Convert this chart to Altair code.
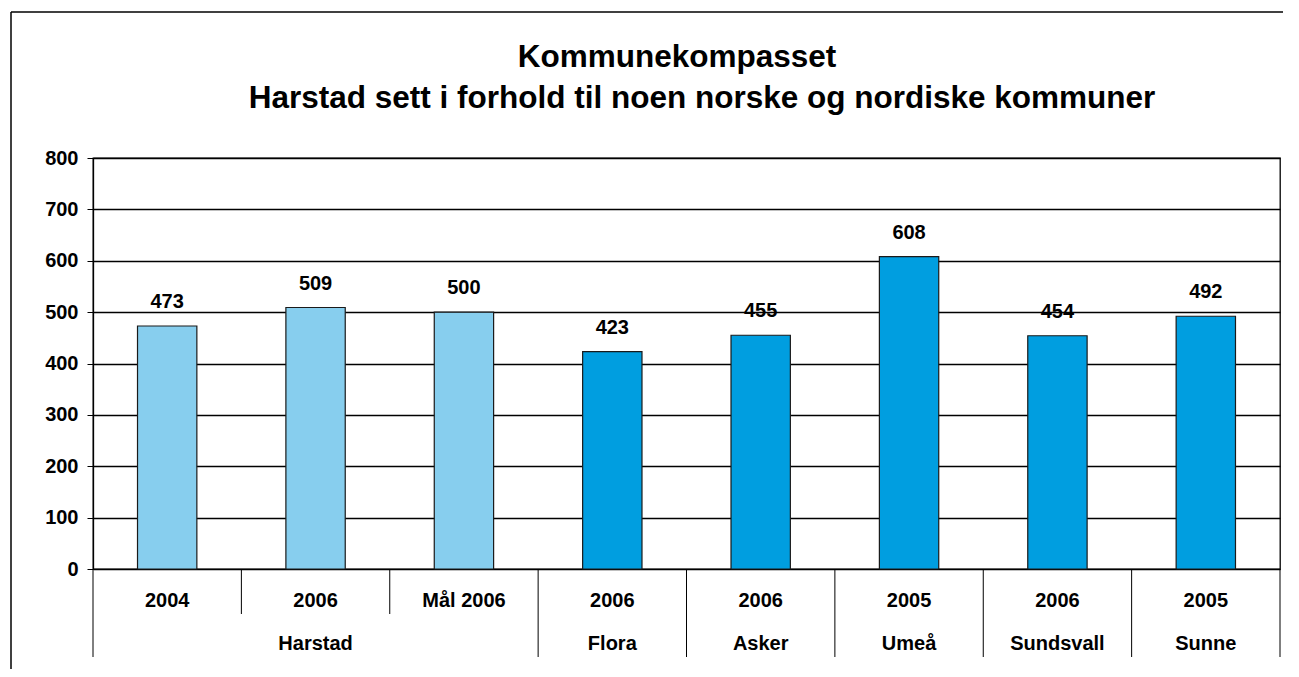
import altair as alt
import pandas as pd

# ---- data ----
cities = ["Harstad", "Harstad", "Harstad", "Flora", "Asker", "Umeå", "Sundsvall", "Sunne"]
years = ["2004", "2006", "Mål 2006", "2006", "2006", "2005", "2006", "2005"]
values = [473, 509, 500, 423, 455, 608, 454, 492]
groups = ["Harstad", "Harstad", "Harstad", "Andre", "Andre", "Andre", "Andre", "Andre"]
title_line1 = "Kommunekompasset"
title_line2 = "Harstad sett i forhold til noen norske og nordiske kommuner"
y_ticks = [0, 100, 200, 300, 400, 500, 600, 700, 800]

W, H = 1187, 411
FONT = "Liberation Sans"

df = pd.DataFrame({"idx": list(range(len(values))), "city": cities, "year": years,
                   "value": values, "group": groups})
df["xc"] = df["idx"] + 0.5
df["x0"] = df["idx"] + 0.3
df["x1"] = df["idx"] + 0.7

city_df = df.groupby("city", sort=False)["xc"].mean().reset_index()

full_b, short_b = [], []
for b in range(len(values) + 1):
    if b == 0 or b == len(values) or cities[b - 1] != cities[b]:
        full_b.append(b)
    else:
        short_b.append(b)

xscale = alt.Scale(domain=[0, len(values)], nice=False, zero=False)
yscale = alt.Scale(domain=[0, 800], nice=False)
ms = dict(font=FONT, fontSize=20, fontWeight="bold", color="#000000")

base = alt.Chart(df)

bars = base.mark_bar(stroke="#1a1a1a", strokeWidth=1.2).encode(
    x=alt.X("x0:Q", scale=xscale, axis=None),
    x2="x1:Q",
    y=alt.Y("value:Q", scale=yscale,
            axis=alt.Axis(values=y_ticks, title=None, grid=True, gridColor="#000000",
                          gridWidth=1.3, domainColor="#000000", tickColor="#000000",
                          tickSize=6, labelFontSize=20, labelFont=FONT, labelFontWeight="bold",
                          labelColor="#000000", labelPadding=9, domainWidth=1.3)),
    y2=alt.datum(0),
    color=alt.Color("group:N", scale=alt.Scale(domain=["Harstad", "Andre"],
                                               range=["#87CEEE", "#009EE0"]), legend=None),
)

vlabels = base.mark_text(dy=-18, baseline="alphabetic", **ms).encode(
    x=alt.X("xc:Q", scale=xscale, axis=None),
    y=alt.Y("value:Q", scale=yscale), text="value:Q")

ylabels = base.mark_text(baseline="middle", **ms).encode(
    x=alt.X("xc:Q", scale=xscale, axis=None), y=alt.value(H + 32), text="year:N")

clabels = alt.Chart(city_df).mark_text(baseline="middle", **ms).encode(
    x=alt.X("xc:Q", scale=xscale, axis=None), y=alt.value(H + 75), text="city:N")

sep_full = alt.Chart(pd.DataFrame({"b": full_b})).mark_rule().encode(
    x=alt.X("b:Q", scale=xscale, axis=None), y=alt.value(H), y2=alt.value(H + 88))
sep_short = alt.Chart(pd.DataFrame({"b": short_b})).mark_rule().encode(
    x=alt.X("b:Q", scale=xscale, axis=None), y=alt.value(H), y2=alt.value(H + 45))

t1 = alt.Chart(pd.DataFrame({"t": [title_line1]})).mark_text(
    fontSize=31.5, font=FONT, fontWeight="bold", baseline="alphabetic", align="center",
    color="#000000").encode(
    x=alt.value(677 - 93), y=alt.value(67 - 158), text="t:N")
t2 = alt.Chart(pd.DataFrame({"t": [title_line2]})).mark_text(
    fontSize=31.5, font=FONT, fontWeight="bold", baseline="alphabetic", align="center",
    color="#000000").encode(
    x=alt.value(702 - 93), y=alt.value(108 - 158), text="t:N")

frame_left = alt.Chart(pd.DataFrame({"a": [1]})).mark_rule(color="#000000", strokeWidth=1.5).encode(
    x=alt.value(11 - 93), y=alt.value(12 - 158), y2=alt.value(700))
frame_top = alt.Chart(pd.DataFrame({"a": [1]})).mark_rule(color="#000000", strokeWidth=1.5).encode(
    x=alt.value(11 - 93), x2=alt.value(1400), y=alt.value(12 - 158))

chart = alt.layer(frame_left, frame_top, sep_full, sep_short, bars, vlabels, ylabels,
                  clabels, t1, t2).properties(
    width=W, height=H,
    autosize=alt.AutoSizeParams(type="none"),
    padding={"left": 85, "top": 150, "right": 3, "bottom": 100},
    background="white",
).configure_view(stroke="#000000", strokeWidth=1.3)

chart.save("out.html", embed_options={"renderer": "svg", "actions": False})
